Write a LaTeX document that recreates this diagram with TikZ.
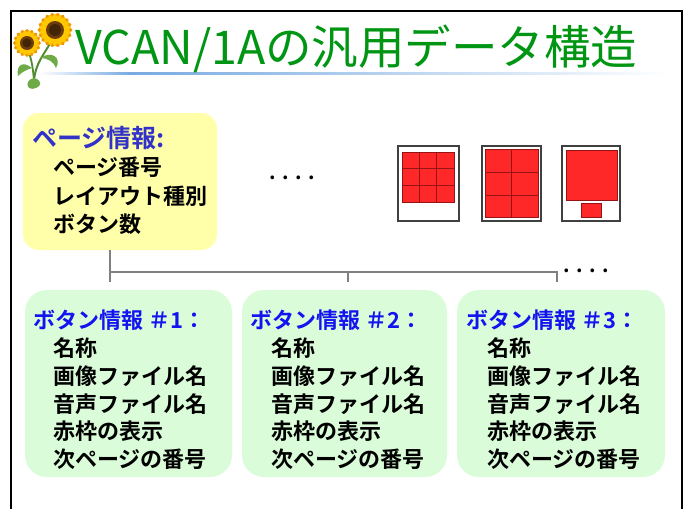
\documentclass[tikz,border=0pt]{standalone}
\usepackage{fontspec}
\setmainfont{Noto Sans CJK JP}[BoldFont={Noto Sans CJK JP Bold}]
\newfontfamily\jpbold{Noto Sans CJK JP Bold}
\definecolor{titlegreen}{RGB}{0,150,20}
\definecolor{pageyellow}{RGB}{255,255,170}
\definecolor{btngreen}{RGB}{218,252,216}
\definecolor{pageblue}{RGB}{50,50,200}
\definecolor{btnblue}{RGB}{20,20,240}
\definecolor{linkgray}{RGB}{128,128,128}
\definecolor{cellred}{RGB}{255,40,40}
\definecolor{gridred}{RGB}{150,20,20}
\definecolor{rulecyan}{RGB}{120,170,225}
\definecolor{petal}{RGB}{255,200,0}
\definecolor{petaldark}{RGB}{240,150,0}
\definecolor{disc}{RGB}{110,60,10}
\definecolor{leaf}{RGB}{110,170,70}
\definecolor{stem}{RGB}{80,140,50}
\newcommand{\fourdots}{.\hspace{6.5pt}.\hspace{6.5pt}.\hspace{6.5pt}.}
\tikzset{
  pagebox/.style={draw=none, fill=pageyellow, rounded corners=16pt, inner sep=0pt},
  btnbox/.style={draw=none, fill=btngreen, rounded corners=22pt, inner sep=0pt},
  headtxt/.style={anchor=base west, inner sep=0pt, font=\jpbold\fontsize{22}{22}\selectfont, text=btnblue},
  pghead/.style={anchor=base west, inner sep=0pt, font=\jpbold\fontsize{25}{25}\selectfont, text=pageblue},
  bodytxt/.style={anchor=base west, inner sep=0pt, font=\jpbold\fontsize{22}{22}\selectfont, text=black},
  conn/.style={draw=linkgray, line width=1.3pt},
  screen/.style={draw=black!75, line width=1.5pt, fill=white},
  cell/.style={fill=cellred, draw=gridred, line width=0.8pt},
  dotstxt/.style={inner sep=0pt, font=\jpbold\fontsize{20}{20}\selectfont}
}
\begin{document}
\begin{tikzpicture}[x=1pt,y=-1pt]
\useasboundingbox (0,0) rectangle (686,509);
\fill[white] (0,0) rectangle (686,509);

% slide frame
\draw[black, line width=1.6pt] (11,509) -- (11,11) -- (682,11) -- (682,509);

% title rule
\shade[left color=white, right color=rulecyan] (38,72) rectangle (130,74.5);
\shade[left color=rulecyan, right color=white] (130,72) rectangle (672,74.5);

% sunflower stems and leaves
\draw[stem, line width=2pt] (52,40) .. controls (44,55) and (36,62) .. (34,80);
\draw[stem, line width=1.8pt] (28,50) .. controls (32,60) and (33,70) .. (34,80);
\fill[leaf] (40,58) .. controls (52,50) and (62,58) .. (56,68) .. controls (54,62) and (48,58) .. (40,58) -- cycle;
\fill[leaf] (32,68) .. controls (22,60) and (16,66) .. (18,76) .. controls (22,72) and (26,70) .. (32,68) -- cycle;
\fill[leaf] (34,78) .. controls (24,80) and (26,92) .. (36,88) .. controls (42,86) and (42,80) .. (34,78) -- cycle;

% small sunflower
\foreach \a in {0,22.5,...,337.5}
  \fill[petaldark, rotate around={\a:(27,43)}] (36,43) ellipse (5 and 2.6);
\foreach \a in {11.25,33.75,...,348.75}
  \fill[petal, rotate around={\a:(27,43)}] (35,43) ellipse (4.5 and 2.4);
\fill[disc] (27,43) circle (7);
\fill[disc!60!black] (27,43) circle (4.5);

% large sunflower
\foreach \a in {0,20,...,340}
  \fill[petaldark, rotate around={\a:(55,30)}] (66,30) ellipse (6.5 and 3);
\foreach \a in {10,30,...,350}
  \fill[petal, rotate around={\a:(55,30)}] (65,30) ellipse (6 and 2.8);
\fill[disc] (55,30) circle (9);
\fill[disc!60!black] (55,30) circle (6);

% title
\node[anchor=base west, inner sep=0pt, text=titlegreen,
      font=\fontsize{46.5}{46.5}\selectfont] (title) at (75,64) {VCAN/1Aの汎用データ構造};

% page information box
\node[pagebox, minimum width=194pt, minimum height=137pt] (pg) at (120,181.5) {};
\node[pghead] (pgh) at (32,147) {ページ情報:};
\node[bodytxt] (pg1) at (53,175) {ページ番号};
\node[bodytxt] (pg2) at (53,204) {レイアウト種別};
\node[bodytxt] (pg3) at (53,232) {ボタン数};

\node[dotstxt] (dotsA) at (292,178) {\fourdots};

% layout icons
\node[screen, minimum width=61pt, minimum height=75pt, inner sep=0pt] (lay1) at (428.5,183.5) {};
\fill[cell] (402,152) rectangle (454,202);
\foreach \i in {1,2} {
  \draw[gridred, line width=0.8pt] ({402+\i*52/3},152) -- ({402+\i*52/3},202);
  \draw[gridred, line width=0.8pt] (402,{152+\i*50/3}) -- (454,{152+\i*50/3});
}
\node[screen, minimum width=59pt, minimum height=75pt, inner sep=0pt] (lay2) at (511.5,183.5) {};
\fill[cell] (485,149.5) rectangle (538,217.5);
\draw[gridred, line width=0.8pt] (511.5,149.5) -- (511.5,217.5);
\draw[gridred, line width=0.8pt] (485,172) -- (538,172);
\draw[gridred, line width=0.8pt] (485,195) -- (538,195);
\node[screen, minimum width=58pt, minimum height=75pt, inner sep=0pt] (lay3) at (591,183.5) {};
\fill[cell] (566,150) rectangle (617,200);
\fill[cell] (581,203.5) rectangle (601,217);

% button information boxes
\node[btnbox, minimum width=207pt, minimum height=187pt] (b1) at (128.5,383.5) {};
\node[btnbox, minimum width=205pt, minimum height=187pt] (b2) at (344.5,383.5) {};
\node[btnbox, minimum width=208pt, minimum height=187pt] (b3) at (561,383.5) {};

\foreach \n/\hx/\bx in {1/33/53, 2/250/271, 3/466/487} {
  \node[headtxt] (h\n) at (\hx,328) {ボタン情報 ＃\n：};
  \node[bodytxt] (n\n) at (\bx,356) {名称};
  \node[bodytxt] (g\n) at (\bx,384) {画像ファイル名};
  \node[bodytxt] (s\n) at (\bx,412) {音声ファイル名};
  \node[bodytxt] (r\n) at (\bx,439) {赤枠の表示};
  \node[bodytxt] (p\n) at (\bx,467) {次ページの番号};
}

% connectors from the page box to the button boxes
\coordinate (bus) at (0,272);
\coordinate (t1) at (110,282);
\coordinate (t2) at (348,282);
\coordinate (t3) at (557,282);
\draw[conn] (pg.south -| t1) -- (t1);
\draw[conn] (t1 |- bus) -- (t3 |- bus) -- (t3);
\draw[conn] (t2 |- bus) -- (t2);
\node[dotstxt] (dotsB) at (586,271) {\fourdots};
\end{tikzpicture}
\end{document}
